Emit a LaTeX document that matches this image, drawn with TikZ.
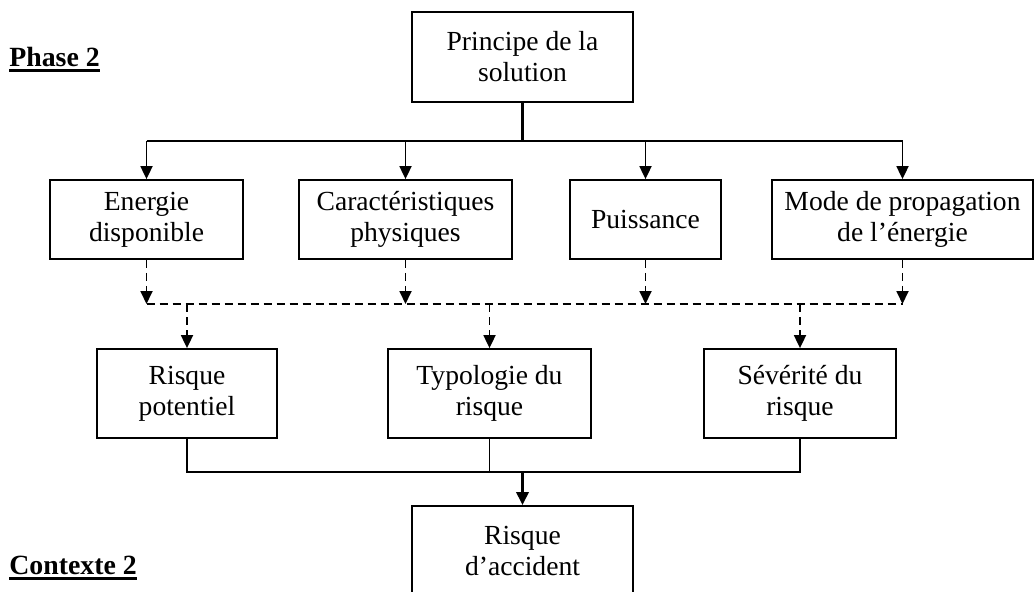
\documentclass[tikz,border=0pt]{standalone}
\usepackage{fontspec}
\setmainfont{Liberation Serif}
\usetikzlibrary{arrows.meta}
\tikzset{boite/.style={draw,line width=0.9pt,align=center,inner sep=0pt,font=\fontsize{13.8}{15.5}\selectfont},
fleche/.style={-{Triangle[width=6pt,length=6.5pt]},line width=0.9pt},
tiret/.style={dash pattern=on 4pt off 2.5pt},
titre/.style={inner sep=0pt,anchor=base west,font=\fontsize{13.9}{16}\selectfont\bfseries}}
\begin{document}
\begin{tikzpicture}[x=0.5pt,y=-0.5pt]
\useasboundingbox(0,0)rectangle(1035,591);
\node[boite,minimum width=110.5pt,minimum height=45pt](P)at(522.5,57){Principe de la\\solution};
\node[boite,minimum width=96.5pt,minimum height=39.5pt](E)at(146.5,219.5){Energie\\disponible};
\node[boite,minimum width=106.5pt,minimum height=39.5pt](C)at(405.5,219.5){Caractéristiques\\physiques};
\node[boite,minimum width=75.5pt,minimum height=39.5pt](Pu)at(645.5,219.5){Puissance};
\node[boite,minimum width=130.5pt,minimum height=39.5pt](M)at(902.5,219.5){Mode de propagation\\de l’énergie};
\node[boite,minimum width=90pt,minimum height=44.5pt](RP)at(187,393.5){Risque\\potentiel};
\node[boite,minimum width=101.5pt,minimum height=44.5pt](T)at(489.5,393.5){Typologie du\\risque};
\node[boite,minimum width=96pt,minimum height=44.5pt](S)at(800,393.5){Sévérité du\\risque};
\node[boite,minimum width=110.5pt,minimum height=45pt](A)at(522.5,551){Risque\\d’accident};
\node[titre](ph)at(9,66){Phase 2};
\node[titre](ct)at(9,574){Contexte 2};
\draw[line width=1.6pt]([yshift=-2.4pt]ph.base west)--([yshift=-2.4pt]ph.base east)
([yshift=-2.4pt]ct.base west)--([yshift=-2.4pt]ct.base east);
\coordinate(j1)at(0,141);
\coordinate(j2)at(0,304);
\coordinate(j3)at(0,472);
\draw[line width=1.6pt](P.south)--(P.south|-j1);
\draw[line width=1pt](E.north|-j1)--(M.north|-j1);
\foreach \n in {E,C,Pu,M}
\draw[fleche](\n.north|-j1)--(\n.north);
\foreach \n in {E,C,Pu,M}
\draw[fleche,tiret](\n.south)--(\n.south|-j2);
\draw[line width=0.9pt,tiret](E.south|-j2)--(M.south|-j2);
\foreach \n in {RP,T,S}
\draw[fleche,tiret](\n.north|-j2)--(\n.north);
\draw[line width=0.9pt](RP.south)--(RP.south|-j3)--(S.south|-j3)--(S.south)
(T.south)--(T.south|-j3);
\draw[fleche,line width=1.6pt](A.north|-j3)--(A.north);
\end{tikzpicture}
\end{document}
